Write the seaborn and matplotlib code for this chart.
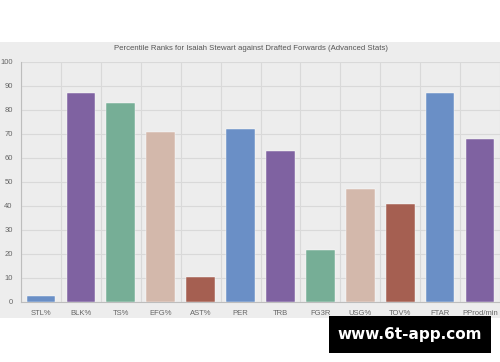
import matplotlib
matplotlib.use("Agg")
import matplotlib.pyplot as plt
import seaborn as sns
import pandas as pd
from matplotlib.patches import Rectangle

categories = ["STL%", "BLK%", "TS%", "EFG%", "AST%", "PER", "TRB", "FG3R", "USG%", "TOV%", "FTAR", "PProd/min"]
values = [2.5, 87, 83, 71, 10.5, 72, 63, 21.5, 47, 41, 87, 68]
colors = ["#6a8fc6", "#7f62a1", "#76ae96", "#d3b8ab", "#a55f51",
          "#6a8fc6", "#7f62a1", "#76ae96", "#d3b8ab", "#a55f51",
          "#6a8fc6", "#7f62a1"]
y_ticks = [0, 10, 20, 30, 40, 50, 60, 70, 80, 90, 100]
title = "Percentile Ranks for Isaiah Stewart against Drafted Forwards (Advanced Stats)"

sns.set_theme(style="white")
plt.rcParams['font.family'] = ['Liberation Sans', 'DejaVu Sans']

W, H = 500, 362
fig = plt.figure(figsize=(W / 100, H / 100), dpi=100)
fig.patch.set_facecolor("white")
bg = "#ededed"
fig.add_artist(Rectangle((0, (H - 318) / H), 1, 276 / H, transform=fig.transFigure,
                         facecolor=bg, edgecolor="none", zorder=0))

ax = fig.add_axes([21 / W, (H - 302) / H, (500 - 21) / W, 240 / H])
ax.set_facecolor(bg)

df = pd.DataFrame({"cat": categories, "val": values})
sns.barplot(data=df, x="cat", y="val", hue="cat", palette=colors, legend=False,
            width=0.72, ax=ax, saturation=1, edgecolor="#ffffff", linewidth=0.3, zorder=3)

ax.set_ylim(0, 100)
ax.set_xlim(-0.5, len(categories) - 0.5)
ax.set_yticks(y_ticks)
ax.set_yticklabels([str(t) for t in y_ticks])
ax.set_xticks(range(len(categories)))
ax.set_xticklabels(categories)
ax.set_xticks([i - 0.5 for i in range(len(categories) + 1)], minor=True)

gcol = "#d9d9d9"
ax.grid(True, axis="y", which="major", color=gcol, linewidth=0.8, zorder=0)
ax.grid(True, axis="x", which="minor", color=gcol, linewidth=0.8, zorder=0)
ax.grid(False, axis="x", which="major")
ax.set_axisbelow(True)

ax.tick_params(axis="x", which="major", length=0, labelsize=5.5, labelcolor="#666666", pad=6)
ax.tick_params(axis="x", which="minor", length=8, color=gcol, width=0.8, direction="out")
ax.tick_params(axis="y", which="major", length=4, color=gcol, labelsize=5.5,
               labelcolor="#666666", pad=2)
ax.set_xlabel("")
ax.set_ylabel("")

for s in ["top", "right"]:
    ax.spines[s].set_visible(False)
ax.spines["left"].set_color("#bdbdbd")
ax.spines["left"].set_linewidth(0.8)
ax.spines["bottom"].set_color("#bdbdbd")
ax.spines["bottom"].set_linewidth(0.8)

fig.text(251 / W, (H - 49) / H, title, ha="center", va="center", fontsize=5.6, color="#555555")

# watermark box
fig.add_artist(Rectangle((329 / W, (H - 353) / H), 162 / W, 37 / H, transform=fig.transFigure,
                         facecolor="black", edgecolor="none", zorder=5))
fig.text(410 / W, (H - 335) / H, "www.6t-app.com", ha="center", va="center",
         fontsize=11, fontweight="bold", color="white", family=["DejaVu Sans"], zorder=6)

fig.savefig("out.png", dpi=100)
